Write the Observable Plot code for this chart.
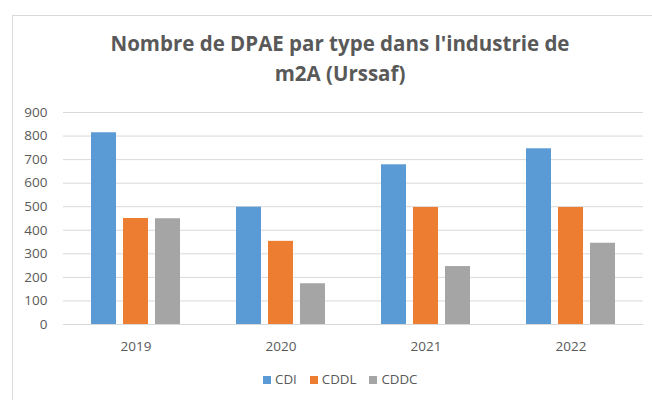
<!DOCTYPE html>
<html>
<head>
<meta charset="utf-8">
<script src="https://cdn.jsdelivr.net/npm/d3@7"></script>
<script src="https://cdn.jsdelivr.net/npm/@observablehq/plot@0.6"></script>
<style>
  html, body { margin: 0; padding: 0; background: #fff; overflow: hidden; width: 652px; height: 400px; }
  #frame { position: absolute; left: 12px; top: 15px; width: 800px; height: 500px; border: 1px solid #d9d9d9; box-sizing: border-box; }
  #title { position: absolute; left: 0; width: 680px; top: 28px; text-align: center; font-family: "Open Sans", sans-serif; font-weight: bold; font-size: 20.5px; line-height: 30px; color: #595959; }
  #chart { position: absolute; left: 0; top: 100px; }
  #legend { position: absolute; left: 263px; top: 371px; font-family: "Open Sans", sans-serif; font-size: 13.3px; line-height: 16px; color: #595959; white-space: nowrap; }
  #legend .sw { display: inline-block; width: 8px; height: 8px; margin-right: 4px; }
  #legend .it { margin-right: 13px; }
</style>
</head>
<body>
<div id="frame"></div>
<div id="title">Nombre de DPAE par type dans l'industrie de<br>m2A (Urssaf)</div>
<div id="chart"></div>
<div id="legend"></div>
<script>
const years = ["2019", "2020", "2021", "2022"];
const series = ["CDI", "CDDL", "CDDC"];
const cdi  = [814, 498, 678, 746];
const cddl = [450, 353, 497, 497];
const cddc = [449, 173, 246, 345];
const yTicks = [0, 100, 200, 300, 400, 500, 600, 700, 800, 900];
const colors = ["#5B9BD5", "#ED7D31", "#A5A5A5"];

const valuesBySeries = [cdi, cddl, cddc];
const rows = [];
years.forEach((yr, i) => {
  series.forEach((s, j) => rows.push({year: yr, type: s, value: valuesBySeries[j][i]}));
});

const chart = Plot.plot({
  width: 652,
  height: 260,
  marginLeft: 63,
  marginRight: 9,
  marginTop: 12,
  marginBottom: 36,
  style: {fontSize: "13.5px", fontFamily: "Open Sans, sans-serif", color: "#595959", background: "transparent"},
  facet: {data: rows, x: "year"},
  fx: {domain: years, axis: "bottom", padding: 0, tickSize: 0, tickPadding: 17, label: null},
  x: {domain: series, axis: null, paddingInner: 0.21875, paddingOuter: 0.875, round: false},
  y: {domain: [0, 900], ticks: yTicks, tickSize: 0, tickPadding: 16, label: null},
  color: {domain: series, range: colors},
  marks: [
    Plot.ruleY(yTicks, {stroke: "#d9d9d9", strokeWidth: 1}),
    Plot.barY(rows, {x: "type", y: "value", fill: "type", inset: 0})
  ]
});
document.getElementById("chart").appendChild(chart);

const legend = document.getElementById("legend");
series.forEach((s, j) => {
  const it = document.createElement("span");
  it.className = "it";
  const sw = document.createElement("span");
  sw.className = "sw";
  sw.style.background = colors[j];
  it.appendChild(sw);
  it.appendChild(document.createTextNode(s));
  legend.appendChild(it);
});
</script>
</body>
</html>
